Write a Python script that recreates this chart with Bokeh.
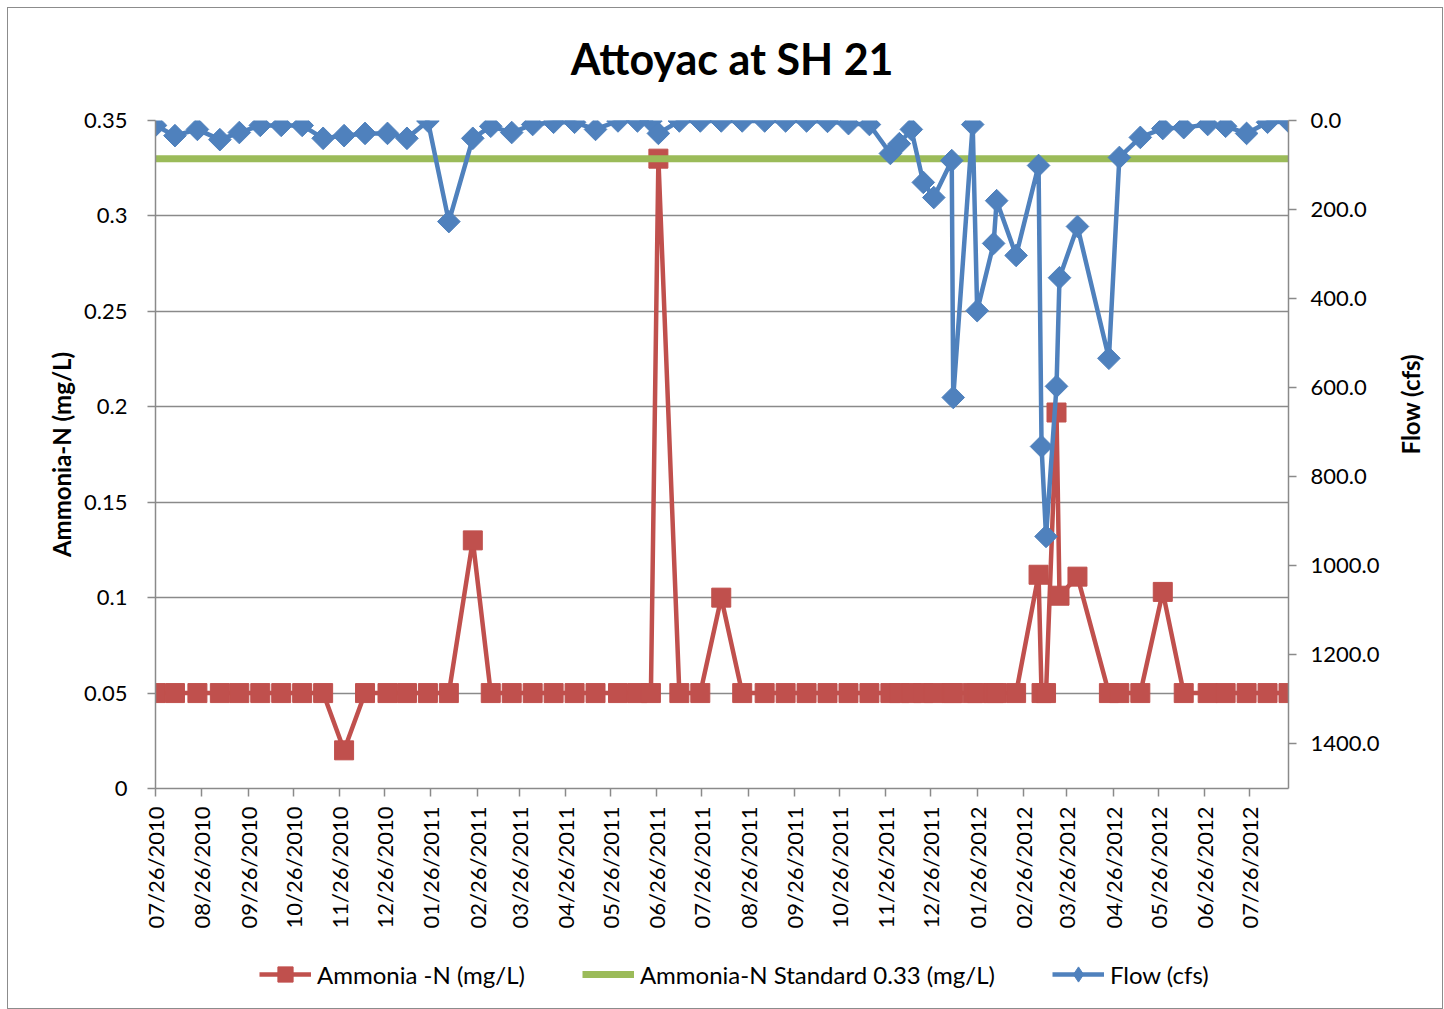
import numpy as np
import pandas as pd
from bokeh.plotting import figure
from bokeh.layouts import column
from bokeh.models import (Range1d, LinearAxis, FixedTicker, DatetimeTickFormatter,
                          NumeralTickFormatter, Legend, LegendItem, Label)
from bokeh.embed import file_html
from bokeh.resources import INLINE

# ---------------- data ----------------
sample_dates = [
    "2010-07-26", "2010-08-08", "2010-08-23", "2010-09-07", "2010-09-20", "2010-10-04", "2010-10-18", "2010-11-01",
    "2010-11-15", "2010-11-29", "2010-12-13", "2010-12-28", "2011-01-10", "2011-01-24", "2011-02-07", "2011-02-23",
    "2011-03-07", "2011-03-21", "2011-04-04", "2011-04-18", "2011-05-02", "2011-05-16", "2011-05-31", "2011-06-13",
    "2011-06-22", "2011-06-27", "2011-07-11", "2011-07-25", "2011-08-08", "2011-08-22", "2011-09-06", "2011-09-20",
    "2011-10-04", "2011-10-18", "2011-11-01", "2011-11-15", "2011-11-29", "2011-12-05", "2011-12-13", "2011-12-21",
    "2011-12-28", "2012-01-09", "2012-01-10", "2012-01-23", "2012-01-26", "2012-02-06", "2012-02-08", "2012-02-21",
    "2012-03-07", "2012-03-09", "2012-03-12", "2012-03-19", "2012-03-21", "2012-04-02", "2012-04-23", "2012-04-30",
    "2012-05-14", "2012-05-29", "2012-06-12", "2012-06-28", "2012-07-10", "2012-07-24", "2012-08-07", "2012-08-21",
]
ammonia = [
    0.05, 0.05, 0.05, 0.05, 0.05, 0.05, 0.05, 0.05, 0.05, 0.02,
    0.05, 0.05, 0.05, 0.05, 0.05, 0.13, 0.05, 0.05, 0.05, 0.05,
    0.05, 0.05, 0.05, 0.05, 0.05, 0.33, 0.05, 0.05, 0.10, 0.05,
    0.05, 0.05, 0.05, 0.05, 0.05, 0.05, 0.05, 0.05, 0.05, 0.05,
    0.05, 0.05, 0.05, 0.05, 0.05, 0.05, 0.05, 0.05, 0.112, 0.05,
    0.05, 0.197, 0.101, 0.111, 0.05, 0.05, 0.05, 0.103, 0.05, 0.05,
    0.05, 0.05, 0.05, 0.05,
]
flow = [
    11, 34, 20, 43, 27, 11, 11, 11, 40, 34,
    29, 29, 40, 1, 227, 40, 13, 27, 9, 4,
    4, 20, 1, 1, 1, 29, 1, 1, 1, 1,
    1, 1, 1, 2, 7, 9, 74, 52, 20, 139,
    173, 90, 622, 9, 427, 276, 180, 303, 101, 732,
    934, 597, 353, 238, 534, 83, 38, 18, 16, 9,
    13, 29, 4, 2,
]
standard_value = 0.33

left_ticks = [0, 0.05, 0.1, 0.15, 0.2, 0.25, 0.3, 0.35]
left_tick_labels = ["0", "0.05", "0.1", "0.15", "0.2", "0.25", "0.3", "0.35"]
flow_ticks = [0, 200, 400, 600, 800, 1000, 1200, 1400]
date_ticks = [
    "2010-07-26", "2010-08-26", "2010-09-26", "2010-10-26", "2010-11-26", "2010-12-26",
    "2011-01-26", "2011-02-26", "2011-03-26", "2011-04-26", "2011-05-26", "2011-06-26",
    "2011-07-26", "2011-08-26", "2011-09-26", "2011-10-26", "2011-11-26", "2011-12-26",
    "2012-01-26", "2012-02-26", "2012-03-26", "2012-04-26", "2012-05-26", "2012-06-26",
    "2012-07-26",
]

title_text = "Attoyac at SH 21"
left_label = "Ammonia-N (mg/L)"
right_label = "Flow (cfs)"
legend_labels = ["Ammonia -N (mg/L)", "Ammonia-N Standard 0.33 (mg/L)", "Flow (cfs)"]

# ---------------- build ----------------
dates = pd.to_datetime(sample_dates)
RED, GREEN, BLUE = "#C0504D", "#9BBB59", "#4F81BD"
GRID = "#8a8a8a"
FONT = "Lato"
W = 1434

def ms(d):
    return pd.Timestamp(d).value / 1e6

def blank_strip(height):
    f = figure(width=W, height=height, output_backend="svg", toolbar_location=None,
               x_axis_location=None, y_axis_location=None, min_border=0,
               x_range=Range1d(0, 1), y_range=Range1d(0, 1))
    f.grid.visible = False
    f.outline_line_color = None
    f.background_fill_color = "white"
    f.border_fill_color = "white"
    return f

# ---------------- title strip ----------------
hdr = blank_strip(90)
hdr.add_layout(Label(x=0.509, y=0.444, text=title_text, text_align="center", text_baseline="middle",
                     text_font=FONT, text_font_size="43px", text_font_style="bold", text_color="black"))

# ---------------- main chart ----------------
p = figure(frame_width=1133, frame_height=668,
           x_axis_type="datetime", output_backend="svg", toolbar_location=None,
           x_range=Range1d(start=ms(sample_dates[0]), end=ms(sample_dates[-1])),
           y_range=Range1d(start=0, end=0.35),
           min_border_left=147, min_border_right=154, min_border_top=22, min_border_bottom=150)
p.outline_line_color = None
p.background_fill_color = "white"
p.border_fill_color = "white"

p.xgrid.visible = False
p.ygrid.ticker = FixedTicker(ticks=left_ticks)
p.ygrid.grid_line_color = GRID
p.ygrid.grid_line_width = 1.5

def style_axis(ax):
    ax.axis_line_color = GRID
    ax.axis_line_width = 1.5
    ax.major_tick_line_color = GRID
    ax.major_tick_line_width = 1.5
    ax.major_tick_out = 8
    ax.major_tick_in = 0
    ax.minor_tick_line_color = None
    ax.major_label_text_font = FONT
    ax.major_label_text_font_size = "22px"
    ax.major_label_text_color = "black"
    ax.axis_label_text_font = FONT
    ax.axis_label_text_font_size = "24px"
    ax.axis_label_text_font_style = "bold"
    ax.axis_label_text_color = "black"

yax = p.yaxis[0]
yax.ticker = FixedTicker(ticks=left_ticks)
yax.major_label_overrides = {t: s for t, s in zip(left_ticks, left_tick_labels)}
yax.axis_label = left_label
style_axis(yax)
yax.major_label_standoff = 20
yax.axis_label_standoff = 5

xax = p.xaxis[0]
xax.ticker = FixedTicker(ticks=[ms(d) for d in date_ticks])
fmt = "%m/%d/%Y"
xax.formatter = DatetimeTickFormatter(days=fmt, months=fmt, years=fmt, hours=fmt, minutes=fmt,
                                      seconds=fmt, minsec=fmt, hourmin=fmt, milliseconds=fmt,
                                      microseconds=fmt)
style_axis(xax)
xax.major_label_orientation = np.pi / 2
xax.major_label_standoff = 10

p.extra_y_ranges = {"flow": Range1d(start=1500, end=0)}
rax = LinearAxis(y_range_name="flow", ticker=FixedTicker(ticks=flow_ticks),
                 formatter=NumeralTickFormatter(format="0.0"), axis_label=right_label)
style_axis(rax)
rax.major_label_standoff = 14
rax.axis_label_standoff = 28
rax.axis_label_orientation = np.pi / 2
p.add_layout(rax, "right")

p.line(dates, ammonia, line_color=RED, line_width=4.5)
p.scatter(dates, ammonia, marker="square", size=19, fill_color=RED, line_color=RED)
p.line([dates[0], dates[-1]], [standard_value, standard_value], line_color=GREEN, line_width=7)
p.line(dates, flow, line_color=BLUE, line_width=4.5, y_range_name="flow")
p.scatter(dates, flow, marker="square", angle=np.pi / 4, size=16, fill_color=BLUE,
          line_color=BLUE, y_range_name="flow")

# ---------------- legend strip ----------------
# same series drawn off-view (ranges 0..1) so that the legend can sample their styles
leg = blank_strip(70)
lr1 = leg.line(dates, ammonia, line_color=RED, line_width=4.5)
lr2 = leg.scatter(dates, ammonia, marker="square", fill_color=RED, line_color=RED)
lg1 = leg.line([dates[0], dates[-1]], [standard_value, standard_value], line_color=GREEN, line_width=7)
lb1 = leg.line(dates, flow, line_color=BLUE, line_width=4.5)
lb2 = leg.scatter(dates, flow, marker="diamond", fill_color=BLUE, line_color=BLUE)

legend = Legend(items=[
    LegendItem(label=legend_labels[0], renderers=[lr1, lr2]),
    LegendItem(label=legend_labels[1], renderers=[lg1]),
    LegendItem(label=legend_labels[2], renderers=[lb1, lb2]),
], orientation="horizontal", location=(104, 15))
legend.label_text_font = FONT
legend.label_text_font_size = "24px"
legend.label_text_color = "black"
legend.glyph_width = 52
legend.glyph_height = 38
legend.label_standoff = 6
legend.spacing = 57
legend.border_line_color = None
legend.background_fill_alpha = 0
legend.margin = 0
legend.padding = 4
leg.add_layout(legend, "center")

layout = column(hdr, p, leg, spacing=0,
                styles={"border": "1px solid #8c8c8c", "margin-left": "7px", "margin-top": "7px"})

open("out.html", "w").write(file_html(layout, INLINE))
